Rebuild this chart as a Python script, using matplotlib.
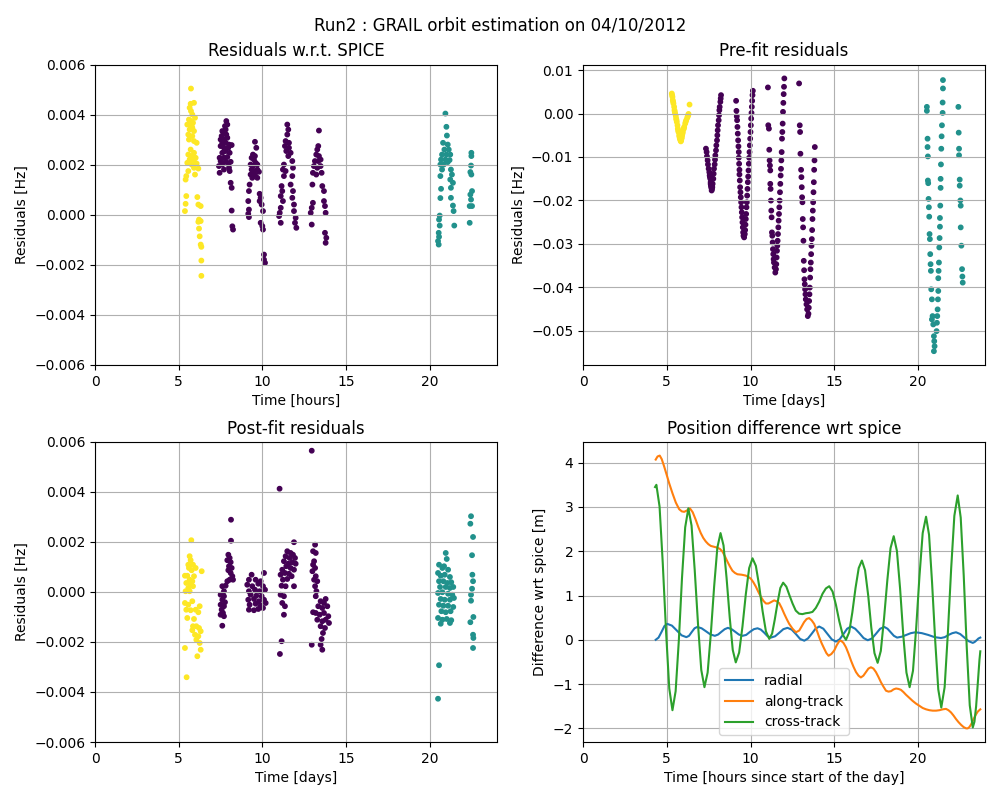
import numpy as np
import matplotlib
matplotlib.use("Agg")
import matplotlib.pyplot as plt

# residuals are stored in mHz, times in hours
# station 1 = purple, station 2 = teal, station 3 = yellow (viridis)

# ---- Residuals w.r.t. SPICE ----
spice_s1_t = [7.84, 7.90, 7.76, 7.80, 7.60, 7.70, 7.56, 7.84, 7.50, 7.70, 7.90, 7.60, 7.80, 8.00, 8.16, 7.50,
              7.70, 7.96, 7.80, 7.60, 8.04, 7.44, 7.70, 7.90, 7.50, 7.80, 8.10, 7.60, 7.96, 7.40, 8.00, 7.70,
              8.04, 7.44, 8.10, 8.16, 8.16, 8.20, 8.24,
              9.55, 9.63, 9.43, 9.35, 9.55, 9.49, 9.29, 9.43, 9.59, 9.69, 9.35, 9.49, 9.69, 9.29, 9.55, 9.79,
              9.39, 9.69, 9.23, 9.19, 9.83, 9.89, 9.15, 9.83, 9.95, 9.19, 10.03, 9.15, 9.19, 9.89, 9.99, 10.03,
              10.09, 10.09, 10.15,
              11.48, 11.54, 11.48, 11.38, 11.58, 11.34, 11.58, 11.42, 11.68, 11.54, 11.28, 11.78, 11.22, 11.38,
              11.82, 11.28, 11.78, 11.14, 11.68, 11.18, 11.82, 11.09, 11.78, 11.22, 11.88, 11.09, 11.03, 11.88,
              10.99, 11.98, 11.09, 11.94, 12.02,
              13.37, 13.33, 13.27, 13.21, 13.37, 13.13, 13.33, 13.47, 13.07, 13.27, 13.47, 13.01, 13.21, 13.53,
              12.98, 13.57, 13.67, 13.01, 12.94, 13.67, 13.73, 12.88, 13.77, 12.94, 13.73, 13.81, 13.77]
spice_s1_r = [3.75, 3.61, 3.55, 3.41, 3.35, 3.28, 3.15, 3.21, 3.01, 3.01, 3.08, 2.88, 2.88, 2.81, 2.79, 2.75,
              2.68, 2.68, 2.55, 2.48, 2.48, 2.28, 2.28, 2.31, 2.15, 2.12, 2.12, 2.01, 2.04, 1.95, 1.88, 1.81,
              1.75, 1.68, 1.28, 1.08, 0.17, -0.46, -0.59,
              2.92, 2.68, 2.41, 2.28, 2.35, 2.21, 2.01, 1.95, 2.08, 2.01, 1.81, 1.75, 1.81, 1.61, 1.61, 1.72,
              1.48, 1.48, 1.21, 0.95, 0.84, 0.68, 0.55, 0.55, 0.41, 0.21, 0.15, 0.04, -0.09, -0.32, -0.45, -0.59,
              -1.59, -1.79, -1.92,
              3.61, 3.41, 3.21, 2.95, 2.88, 2.75, 2.68, 2.55, 2.48, 2.35, 2.01, 2.15, 1.81, 1.75,
              1.88, 1.55, 1.55, 1.15, 1.21, 0.95, 0.95, 0.75, 0.68, 0.55, 0.41, 0.28, 0.08, 0.15,
              -0.05, -0.12, -0.32, -0.32, -0.52,
              3.37, 2.75, 2.61, 2.41, 2.35, 2.15, 2.15, 2.21, 1.95, 1.88, 1.95, 1.68, 1.61, 1.68,
              1.21, 1.15, 0.95, 0.48, 0.28, 0.55, 0.35, 0.08, 0.08, -0.39, -0.72, -0.92, -1.12]
spice_s2_t = [20.92, 20.98, 21.01, 20.78, 21.06, 20.86, 21.12, 20.72, 20.98, 21.21, 20.66, 20.92, 21.17, 20.62,
              20.82, 21.06, 20.72, 21.25, 20.62, 21.31, 21.21, 21.37, 21.25, 20.66, 21.25, 20.62, 21.37, 21.41,
              20.58, 20.54, 20.58, 21.45, 20.52, 20.54, 20.48, 20.52,
              22.47, 22.47, 22.45, 22.41, 22.47, 22.51, 22.41, 22.45, 22.37, 22.51, 22.37]
spice_s2_r = [4.05, 3.52, 3.17, 2.88, 2.81, 2.61, 2.61, 2.41, 2.41, 2.41, 2.21, 2.21, 2.19, 2.01,
              2.01, 2.11, 1.81, 1.81, 1.55, 1.61, 1.41, 1.28, 1.08, 1.04, 0.68, 0.67, 0.37, 0.15,
              -0.03, -0.19, -0.43, -0.43, -0.72, -0.88, -1.05, -1.19,
              2.48, 2.35, 1.97, 1.71, 1.61, 0.95, 0.81, 0.61, 0.35, 0.35, -0.32]
spice_s3_t = [5.73, 5.91, 5.71, 5.65, 5.73, 5.81, 5.97, 5.61, 5.71, 5.85, 5.51, 5.77, 5.81, 5.65, 5.91, 5.57,
              5.81, 5.61, 5.91, 6.07, 5.71, 5.91, 5.57, 5.81, 6.01, 5.65, 5.85, 5.51, 5.97, 5.77, 6.07, 5.57,
              6.17, 5.91, 5.45, 5.97, 5.41, 5.45, 6.11, 5.41, 6.17, 6.31, 5.37, 6.21, 6.31, 6.17, 6.21, 6.25,
              6.31, 6.35, 6.35, 6.35]
spice_s3_r = [5.05, 4.48, 4.44, 4.28, 4.15, 4.01, 3.88, 3.81, 3.75, 3.68, 3.61, 3.55, 3.48, 3.41, 3.35, 3.21,
              3.15, 3.01, 2.95, 2.88, 2.61, 2.48, 2.41, 2.35, 2.28, 2.21, 2.15, 2.08, 2.08, 2.01, 2.05, 1.75,
              1.85, 1.88, 1.55, 1.61, 1.41, 0.75, 0.71, 0.44, 0.41, 0.35, 0.15, -0.19, -0.25, -0.28, -0.55, -0.86,
              -1.19, -1.28, -1.83, -2.44]

# ---- Pre-fit residuals ----
prefit_s1_t = [7.34, 7.38, 7.40, 7.44, 7.46, 7.50, 7.54, 7.56, 7.58, 7.60, 7.62, 7.62, 7.64, 7.66, 7.66, 7.68,
               7.70, 7.70, 7.72, 7.74, 7.78, 7.80, 7.82, 7.86, 7.88, 7.90, 7.94, 7.96, 8.00, 8.02, 8.04, 8.06,
               8.10, 8.12, 8.14, 8.16, 8.20, 8.22, 8.24,
               9.14, 9.16, 9.18, 9.20, 9.22, 9.24, 9.26, 9.28, 9.30, 9.30, 9.32, 9.34, 9.34, 9.36, 9.38, 9.40,
               9.42, 9.44, 9.46, 9.48, 9.50, 9.52, 9.54, 9.56, 9.58, 9.62, 9.66, 9.68, 9.70, 9.72, 9.74, 9.76,
               9.78, 9.80, 9.82, 9.84, 9.86, 9.88, 9.90, 9.92, 9.94, 9.96, 9.98, 10.00, 10.02, 10.04, 10.06,
               10.08, 10.10, 10.12, 10.14,
               11.04, 11.06, 11.10, 11.12, 11.14, 11.16, 11.18, 11.18, 11.20, 11.22, 11.24, 11.26, 11.28, 11.30,
               11.32, 11.34, 11.36, 11.38, 11.40, 11.44, 11.48, 11.52, 11.54, 11.56, 11.58, 11.60, 11.62, 11.64,
               11.66, 11.68, 11.70, 11.72, 11.74, 11.76, 11.78, 11.80, 11.82, 11.84, 11.86, 11.88, 11.90, 11.92,
               11.94, 11.96, 11.98, 12.00, 12.02,
               12.90, 12.94, 12.96, 12.98, 13.02, 13.04, 13.06, 13.08, 13.10, 13.12, 13.14, 13.16, 13.18, 13.20,
               13.22, 13.24, 13.26, 13.28, 13.30, 13.34, 13.38, 13.42, 13.46, 13.48, 13.50, 13.52, 13.54, 13.56,
               13.58, 13.60, 13.62, 13.64, 13.66, 13.68, 13.70, 13.72, 13.74, 13.76, 13.78, 13.80, 13.82, 13.84]
prefit_s1_r = [-8.08, -8.86, -9.86, -10.78, -11.71, -12.70, -13.49, -14.25, -14.60, -15.01, -15.80, -16.20,
               -16.56, -16.80, -17.09, -17.71, -17.40, -16.50, -16.95, -16.17, -15.01, -13.86, -12.70, -11.71,
               -10.62, -9.63, -8.48, -7.32, -6.17, -5.01, -3.86, -2.70, -1.55, -0.39, 0.76, 1.52, 2.68, 3.46, 4.23,
               2.92, 0.61, -0.63, -1.55, -3.09, -4.63, -6.17, -7.56, -8.87, -10.17, -11.56, -12.95, -14.02,
               -15.41, -16.95, -18.11, -19.26, -20.42, -21.57, -22.73, -23.88, -25.04, -26.19, -27.35, -28.12,
               -28.50, -27.73, -26.81, -25.57, -24.27, -23.11, -21.57, -20.42, -18.88, -17.34, -15.80, -14.49,
               -13.10, -11.56, -10.17, -8.87, -7.33, -5.79, -4.25, -2.71, -1.17, 0.14, 1.53, 2.92, 4.23, 5.23,
               6.00, -2.70, -3.48, -8.33, -10.79, -11.95, -13.10, -16.18, -17.34, -20.03, -22.34, -23.88, -27.35,
               -28.12, -29.66, -31.20, -32.35, -33.51, -34.28, -35.43, -36.59, -35.82, -34.66, -33.12, -31.58,
               -30.43, -29.27, -27.73, -26.19, -24.65, -23.11, -21.57, -20.03, -18.11, -16.18, -14.26, -12.72,
               -10.79, -8.87, -5.79, -4.25, -2.32, 0.38, 2.45, 4.46, 6.15, 8.07,
               6.92, -2.71, -4.25, -9.25, -12.95, -14.64, -16.95, -19.26, -20.42, -24.27, -26.19, -29.27, -33.89,
               -36.05, -38.13, -39.28, -40.44, -41.59, -42.75, -43.90, -45.06, -46.60, -46.06, -44.67, -43.13,
               -41.59, -40.05, -37.74, -35.82, -34.28, -32.35, -30.43, -28.89, -26.81, -24.27, -22.34, -20.42,
               -18.11, -15.80, -12.95, -10.79, -7.71]
prefit_s2_t = [20.53, 20.53, 20.57, 20.57, 20.59, 20.59, 20.61, 20.63, 20.65, 20.67, 20.69, 20.71, 20.73, 20.75,
               20.77, 20.79, 20.83, 20.87, 20.83, 20.91, 20.95, 20.97, 20.99, 20.95,
               21.11, 21.13, 21.15, 21.17, 21.19, 21.21, 21.21, 21.23, 21.25, 21.27, 21.29, 21.31, 21.31, 21.33,
               21.35, 21.35, 21.37, 21.39, 21.41, 21.43, 21.47, 21.47, 21.49, 21.49,
               22.41, 22.43, 22.45, 22.45, 22.49, 22.49, 22.53, 22.55, 22.55, 22.59, 22.63, 22.65, 22.67]
prefit_s2_r = [1.53, 0.61, -5.79, -7.71, -9.87, -15.41, -16.03, -19.65, -21.57, -23.73, -27.73, -28.89,
               -32.35, -34.66, -36.20, -40.44, -42.75, -46.60, -47.37, -48.52, -51.22, -52.37, -53.53, -54.68,
               -50.06, -48.14, -46.60, -45.06, -42.75, -40.82, -37.89, -36.20, -34.28, -30.81, -28.65, -26.04,
               -24.03, -21.19, -17.10, -15.03, -11.71, -8.10, -5.25, -2.71, 0.14, 2.53, 5.77, 7.69,
               1.53, -4.40, -8.10, -9.60, -15.20, -16.60, -20.00, -21.20, -26.20, -30.40, -35.80, -37.50, -38.90]
prefit_s3_t = [5.30, 5.34, 5.36, 5.40, 5.44, 5.46, 5.50, 5.54, 5.56, 5.60, 5.64, 5.66, 5.70, 5.74, 5.78, 5.84,
               5.88, 5.92, 5.96, 6.00, 6.04, 6.10, 6.16, 6.22, 6.28, 6.36,
               5.32, 5.38, 5.48, 5.58, 5.68, 5.76, 5.81, 5.86, 5.90, 5.94, 6.02, 6.13, 6.25, 6.30]
prefit_s3_r = [4.60, 3.83, 3.07, 2.30, 1.53, 0.76, -0.02, -0.55, -1.17, -1.94, -2.71, -3.48, -4.25, -5.02,
               -5.79, -6.41, -5.79, -5.02, -4.25, -3.63, -3.10, -2.33, -1.56, -1.02, -0.40, 2.06,
               4.20, 2.70, 0.40, -1.50, -3.90, -5.40, -6.10, -6.20, -5.50, -4.60, -3.40, -1.90, -0.70, -0.10]

# ---- Post-fit residuals ----
postfit_s1_t = [8.12, 8.12, 7.96, 8.04, 7.90, 8.10, 8.00, 8.16, 7.96, 8.10, 8.20, 8.04, 7.90, 8.24, 7.60, 7.80,
                7.70, 7.50, 7.70, 7.60, 7.76, 7.50, 7.70, 7.56, 7.64, 7.50, 7.70, 7.60,
                9.35, 10.09, 9.19, 9.59, 9.89, 9.09, 9.39, 9.75, 10.03, 9.19, 9.55, 9.83, 10.15, 9.29, 9.63,
                9.95, 9.15, 9.49, 9.79, 10.09, 9.23, 9.59, 9.89, 10.19, 9.19, 9.49, 9.75, 10.03,
                11.02, 11.88, 11.48, 11.68, 11.82, 11.38, 11.62, 11.94, 11.28, 11.78, 11.54, 11.98, 11.42, 11.68,
                11.18, 11.88, 11.34, 11.58, 11.08, 11.74, 11.22, 11.48, 11.14, 11.38, 11.88, 11.08, 11.28, 11.18,
                11.34, 11.28, 11.14, 11.04,
                12.94, 13.14, 13.02, 13.18, 13.08, 13.02, 13.14, 12.98, 13.18, 13.08, 13.27, 13.14, 13.22, 13.77,
                13.18, 13.47, 13.67, 13.02, 13.33, 13.57, 13.87, 13.18, 13.41, 13.67, 13.93, 13.27, 13.57, 13.77,
                13.97, 13.47, 13.73, 13.61, 13.53, 12.94, 13.47, 13.57]
postfit_s1_r = [2.89, 2.05, 1.49, 1.36, 1.27, 1.19, 1.03, 0.96, 0.87, 0.76, 0.63, 0.49, 0.43, 0.49, 0.23, 0.25,
                0.03, -0.11, -0.17, -0.31, -0.41, -0.51, -0.57, -0.71, -0.84, -0.91, -0.97, -1.35,
                0.69, 0.76, 0.49, 0.49, 0.43, 0.29, 0.23, 0.33, 0.23, 0.03, 0.09, 0.03, 0.09, -0.11, -0.15,
                -0.17, -0.31, -0.28, -0.37, -0.31, -0.51, -0.47, -0.55, -0.44, -0.71, -0.73, -0.68, -0.64,
                4.13, 1.99, 1.63, 1.56, 1.49, 1.43, 1.36, 1.36, 1.23, 1.19, 1.13, 1.13, 1.03, 0.96,
                0.89, 0.89, 0.76, 0.73, 0.69, 0.63, 0.49, 0.52, 0.25, 0.23, 0.23, -0.11, -0.17, -0.44,
                -0.57, -0.91, -1.97, -2.48,
                5.65, 1.89, 1.63, 1.56, 1.23, 1.09, 0.96, 0.83, 0.63, 0.49, 0.43, 0.23, 0.03, -0.28,
                -0.17, -0.37, -0.44, -0.81, -0.57, -0.64, -0.57, -0.84, -0.91, -0.84, -0.97, -1.11, -1.17, -1.11,
                -1.24, -1.37, -1.44, -1.64, -1.88, -2.11, -2.11, -2.31]
postfit_s2_t = [20.94, 21.00, 20.54, 20.74, 20.84, 21.08, 20.48, 20.64, 20.88, 21.19, 20.54, 20.80, 21.04, 21.27,
                20.60, 20.94, 21.19, 21.39, 20.48, 20.74, 21.08, 21.33, 20.64, 20.88, 21.19, 21.43, 20.54, 20.80,
                21.08, 21.39, 20.68, 20.94, 21.23, 20.48, 20.74, 21.00, 21.27, 20.64, 21.19, 20.54, 20.48,
                22.45, 22.41, 22.57, 22.51, 22.53, 22.57, 22.51, 22.45, 22.45, 22.41, 22.59, 22.57, 22.59, 22.57]
postfit_s2_r = [1.56, 1.32, 1.09, 0.96, 1.03, 0.89, 0.76, 0.65, 0.69, 0.60, 0.43, 0.43, 0.36, 0.39,
                0.20, 0.20, 0.16, 0.20, -0.04, -0.01, -0.07, -0.11, -0.28, -0.31, -0.31, -0.24, -0.51, -0.55,
                -0.55, -0.60, -0.77, -0.81, -0.77, -1.04, -1.11, -1.08, -1.13, -1.27, -1.24, -2.93, -4.27,
                3.03, 2.73, 2.20, 1.47, 0.69, 0.43, 0.13, -0.11, -0.35, -1.21, -1.00, -1.71, -1.84, -2.24]
postfit_s3_t = [5.75, 5.65, 5.71, 5.57, 5.85, 5.61, 5.77, 6.01, 6.37, 5.37, 5.51, 5.91, 5.65, 5.81, 5.45, 5.71,
                5.57, 5.85, 5.41, 5.65, 5.37, 5.57, 5.81, 6.25, 5.45, 5.71, 6.01, 6.17, 5.51, 5.91, 5.85, 6.05,
                6.21, 5.81, 6.31, 5.97, 6.17, 6.05, 6.25, 6.31, 5.37, 6.11, 5.47]
postfit_s3_r = [2.07, 1.43, 1.27, 1.09, 1.09, 0.96, 0.87, 0.96, 0.83, 0.65, 0.65, 0.63, 0.49, 0.43, 0.36, 0.29,
                0.16, 0.23, 0.03, 0.03, -0.44, -0.51, -0.37, -0.57, -0.71, -0.73, -0.71, -0.81, -1.04, -1.08,
                -1.37, -1.37, -1.44, -1.53, -1.57, -1.71, -1.77, -1.91, -2.04, -2.31, -2.24, -2.57, -3.41]

# ---- Position difference wrt spice [m] ----
radial_t = [4.34, 4.51, 4.69, 4.86, 5.03, 5.31, 5.60, 5.89, 6.17, 6.33, 6.50, 6.66, 6.82, 7.08, 7.35, 7.61,
            7.87, 8.07, 8.26, 8.46, 8.65, 8.87, 9.09, 9.30, 9.52, 9.74, 9.97, 10.20, 10.42, 10.62, 10.82,
            11.02, 11.22, 11.47, 11.72, 11.96, 12.21, 12.46, 12.71, 12.96, 13.21, 13.43, 13.66, 13.88, 14.10,
            14.35, 14.60, 14.85, 15.10, 15.32, 15.55, 15.77, 16.00, 16.25, 16.50, 16.75, 17.00, 17.25, 17.50,
            17.74, 17.99, 18.18, 18.37, 18.56, 18.75, 19.03, 19.30, 19.57, 19.85, 20.23, 20.61, 20.99, 21.37,
            21.60, 21.82, 22.05, 22.27, 22.52, 22.77, 23.02, 23.27, 23.38, 23.50, 23.61, 23.72]
radial = [0.00, 0.05, 0.18, 0.31, 0.36, 0.32, 0.21, 0.10, 0.06, 0.09, 0.18, 0.26, 0.29, 0.26, 0.19, 0.12,
          0.09, 0.12, 0.18, 0.24, 0.27, 0.24, 0.18, 0.12, 0.09, 0.11, 0.18, 0.24, 0.26, 0.23, 0.16,
          0.08, 0.05, 0.08, 0.16, 0.24, 0.27, 0.23, 0.13, 0.02, -0.02, 0.03, 0.14, 0.25, 0.30,
          0.25, 0.13, 0.01, -0.04, 0.01, 0.13, 0.25, 0.30, 0.25, 0.15, 0.04, -0.01, 0.03, 0.14,
          0.25, 0.29, 0.25, 0.17, 0.09, 0.05, 0.07, 0.11, 0.15, 0.17, 0.15, 0.11, 0.06, 0.04,
          0.06, 0.11, 0.15, 0.17, 0.13, 0.05, -0.03, -0.07, -0.05, -0.01, 0.03, 0.05]
along_t = [4.34, 4.45, 4.58, 4.70, 4.84, 5.00, 5.14, 5.34, 5.54, 5.74, 5.90, 6.04, 6.20, 6.38, 6.55, 6.73,
           6.88, 7.03, 7.18, 7.33, 7.48, 7.63, 7.83, 8.03, 8.18, 8.33, 8.48, 8.63, 8.78, 8.92, 9.07, 9.22,
           9.47, 9.72, 9.87, 10.02, 10.17, 10.32, 10.47, 10.62, 10.77, 10.92, 11.07, 11.22, 11.41, 11.56,
           11.71, 11.86, 12.01, 12.16, 12.31, 12.51, 12.71, 12.91, 13.05, 13.20, 13.35, 13.50, 13.65, 13.80,
           13.95, 14.10, 14.25, 14.40, 14.53, 14.66, 14.83, 15.00, 15.15, 15.30, 15.40, 15.55, 15.70, 15.85,
           16.00, 16.15, 16.30, 16.45, 16.59, 16.74, 16.89, 17.04, 17.19, 17.34, 17.49, 17.64, 17.79, 17.94,
           18.09, 18.24, 18.39, 18.54, 18.69, 18.84, 18.98, 19.13, 19.28, 19.48, 19.68, 19.88, 20.08, 20.28,
           20.48, 20.68, 20.88, 21.08, 21.28, 21.48, 21.67, 21.82, 21.97, 22.12, 22.27, 22.42, 22.57, 22.72,
           22.87, 22.97, 23.07, 23.17, 23.27, 23.37, 23.47, 23.57, 23.72]
along = [4.07, 4.14, 4.16, 4.08, 3.92, 3.72, 3.54, 3.31, 3.10, 2.95, 2.90, 2.89, 2.92, 2.97, 2.88, 2.71,
         2.55, 2.41, 2.30, 2.22, 2.16, 2.12, 2.10, 2.08, 2.05, 1.99, 1.88, 1.76, 1.65, 1.56, 1.51, 1.48,
         1.47, 1.45, 1.42, 1.38, 1.30, 1.20, 1.08, 0.97, 0.88, 0.82, 0.82, 0.85, 0.89, 0.87,
         0.83, 0.72, 0.59, 0.47, 0.36, 0.25, 0.17, 0.21, 0.30, 0.40, 0.47, 0.49, 0.44, 0.36,
         0.22, 0.06, -0.08, -0.20, -0.30, -0.36, -0.32, -0.24, -0.12, -0.03, -0.02, -0.07, -0.17, -0.31,
         -0.47, -0.61, -0.73, -0.81, -0.85, -0.81, -0.73, -0.65, -0.62, -0.65, -0.73, -0.84, -0.96, -1.06,
         -1.15, -1.17, -1.16, -1.12, -1.10, -1.11, -1.13, -1.18, -1.24, -1.31, -1.38, -1.44, -1.49, -1.54,
         -1.57, -1.59, -1.60, -1.60, -1.59, -1.57, -1.56, -1.59, -1.64, -1.71, -1.79, -1.86, -1.92, -1.97,
         -2.00, -2.00, -1.97, -1.91, -1.83, -1.75, -1.68, -1.62, -1.57]
cross_t = [4.30, 4.38, 4.57, 4.76, 4.96, 5.15, 5.34, 5.53, 5.72, 5.91, 6.10, 6.29, 6.48, 6.67, 6.87, 7.06,
           7.25, 7.44, 7.63, 7.83, 8.02, 8.21, 8.39, 8.57, 8.76, 8.94, 9.12, 9.32, 9.52, 9.72, 9.92, 10.12,
           10.32, 10.52, 10.72, 10.92, 11.12, 11.29, 11.45, 11.62, 11.78, 11.95, 12.14, 12.33, 12.51, 12.70,
           12.90, 13.10, 13.30, 13.50, 13.70, 13.90, 14.10, 14.30, 14.50, 14.70, 14.90, 15.10, 15.30, 15.50,
           15.70, 15.89, 16.08, 16.27, 16.46, 16.65, 16.84, 17.03, 17.21, 17.40, 17.59, 17.78, 17.97, 18.17,
           18.36, 18.55, 18.74, 18.93, 19.12, 19.31, 19.50, 19.70, 19.89, 20.09, 20.28, 20.48, 20.66, 20.84,
           21.03, 21.21, 21.39, 21.59, 21.78, 21.98, 22.17, 22.37, 22.55, 22.73, 22.91, 23.09, 23.27, 23.37,
           23.47, 23.57, 23.67, 23.72]
cross = [3.45, 3.50, 3.01, 1.74, 0.17, -1.10, -1.59, -1.16, -0.02, 1.40, 2.54, 2.97, 2.58, 1.57, 0.33, -0.68,
         -1.07, -0.74, 0.13, 1.21, 2.08, 2.41, 2.13, 1.40, 0.50, -0.23, -0.51, -0.29, 0.30, 1.03, 1.62, 1.84,
         1.67, 1.21, 0.65, 0.19, 0.02, 0.14, 0.46, 0.85, 1.17, 1.29, 1.20, 1.00, 0.82, 0.66,
         0.59, 0.58, 0.60, 0.61, 0.63, 0.72, 0.86, 1.04, 1.16, 1.21, 1.09, 0.79, 0.42, 0.12,
         0.00, 0.17, 0.62, 1.17, 1.62, 1.79, 1.57, 0.99, 0.28, -0.30, -0.52, -0.25, 0.47, 1.35,
         2.07, 2.34, 2.01, 1.16, 0.11, -0.74, -1.07, -0.70, 0.26, 1.45, 2.41, 2.78, 2.37, 1.29,
         -0.04, -1.12, -1.53, -1.07, 0.13, 1.61, 2.80, 3.26, 2.76, 1.45, -0.17, -1.48, -1.98, -1.85,
         -1.50, -0.98, -0.45, -0.26]


def stack(groups):
    t = np.concatenate([np.asarray(g[0]) for g in groups])
    r = np.concatenate([np.asarray(g[1]) for g in groups]) * 1e-3
    c = np.concatenate([np.full(len(g[0]), k + 1) for k, g in enumerate(groups)])
    return t, r, c


fig, axs = plt.subplots(2, 2, figsize=(10, 8), dpi=100)
fig.suptitle("Run2 : GRAIL orbit estimation on 04/10/2012")

panels = [
    (axs[0, 0], "Residuals w.r.t. SPICE", "Time [hours]",
     [(spice_s1_t, spice_s1_r), (spice_s2_t, spice_s2_r), (spice_s3_t, spice_s3_r)], True),
    (axs[0, 1], "Pre-fit residuals", "Time [days]",
     [(prefit_s1_t, prefit_s1_r), (prefit_s2_t, prefit_s2_r), (prefit_s3_t, prefit_s3_r)], False),
    (axs[1, 0], "Post-fit residuals", "Time [days]",
     [(postfit_s1_t, postfit_s1_r), (postfit_s2_t, postfit_s2_r), (postfit_s3_t, postfit_s3_r)], True),
]
for ax, title, xlab, groups, fixed in panels:
    t, r, c = stack(groups)
    ax.scatter(t, r, c=c, cmap="viridis", vmin=1, vmax=3, s=10)
    ax.set_title(title)
    ax.set_xlabel(xlab)
    ax.set_ylabel("Residuals [Hz]")
    ax.set_xlim(0, 24)
    if fixed:
        ax.set_ylim(-0.006, 0.006)
    ax.grid(True)

ax = axs[1, 1]
ax.plot(radial_t, radial, label="radial")
ax.plot(along_t, along, label="along-track")
ax.plot(cross_t, cross, label="cross-track")
ax.set_title("Position difference wrt spice")
ax.set_xlabel("Time [hours since start of the day]")
ax.set_ylabel("Difference wrt spice [m]")
ax.set_xlim(0, 24)
ax.grid(True)
ax.legend(loc="lower center")

plt.subplots_adjust(left=0.095, right=0.985, bottom=0.0725, top=0.919, wspace=0.214, hspace=0.257)
plt.savefig("out.png")
